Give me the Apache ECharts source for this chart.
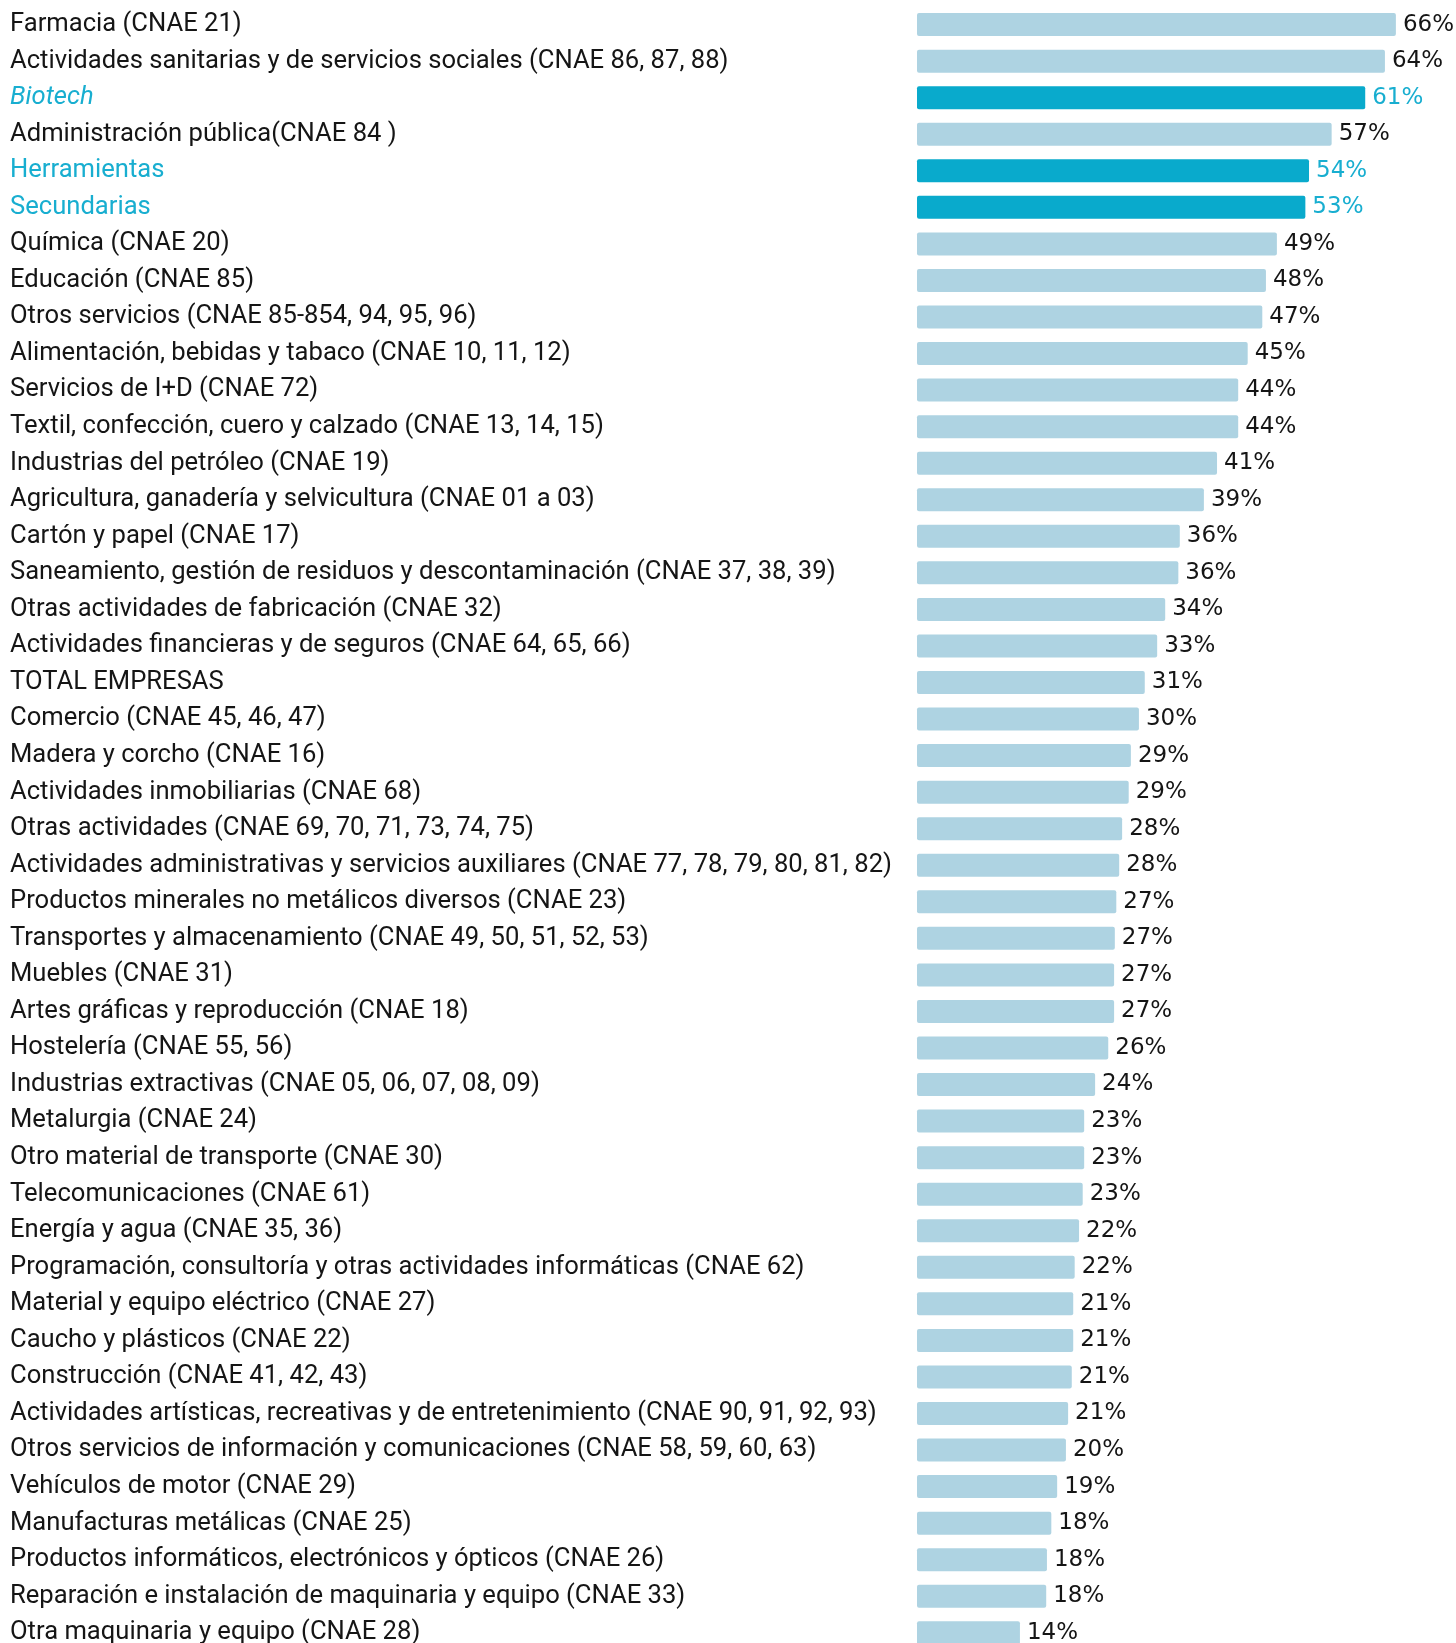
<!DOCTYPE html>
<html>
<head>
<meta charset="utf-8">
<script src="https://cdn.jsdelivr.net/npm/echarts@6/dist/echarts.min.js"></script>
<style>
  html, body { margin: 0; padding: 0; background: #ffffff; }
  #chart { width: 1456px; height: 1643px; }
</style>
</head>
<body>
<div id="chart"></div>
<script>
const categories = [
  "Farmacia (CNAE 21)",
  "Actividades sanitarias y de servicios sociales (CNAE 86, 87, 88)",
  "Biotech",
  "Administración pública(CNAE 84 )",
  "Herramientas",
  "Secundarias",
  "Química (CNAE 20)",
  "Educación (CNAE 85)",
  "Otros servicios (CNAE 85-854, 94, 95, 96)",
  "Alimentación, bebidas y tabaco (CNAE 10, 11, 12)",
  "Servicios de I+D (CNAE 72)",
  "Textil, confección, cuero y calzado (CNAE 13, 14, 15)",
  "Industrias del petróleo (CNAE 19)",
  "Agricultura, ganadería y selvicultura (CNAE 01 a 03)",
  "Cartón y papel (CNAE 17)",
  "Saneamiento, gestión de residuos y descontaminación (CNAE 37, 38, 39)",
  "Otras actividades de fabricación (CNAE 32)",
  "Actividades financieras y de seguros (CNAE 64, 65, 66)",
  "TOTAL EMPRESAS",
  "Comercio (CNAE 45, 46, 47)",
  "Madera y corcho (CNAE 16)",
  "Actividades inmobiliarias (CNAE 68)",
  "Otras actividades (CNAE 69, 70, 71, 73, 74, 75)",
  "Actividades administrativas y servicios auxiliares (CNAE 77, 78, 79, 80, 81, 82)",
  "Productos minerales no metálicos diversos (CNAE 23)",
  "Transportes y almacenamiento (CNAE 49, 50, 51, 52, 53)",
  "Muebles (CNAE 31)",
  "Artes gráficas y reproducción (CNAE 18)",
  "Hostelería (CNAE 55, 56)",
  "Industrias extractivas (CNAE 05, 06, 07, 08, 09)",
  "Metalurgia (CNAE 24)",
  "Otro material de transporte (CNAE 30)",
  "Telecomunicaciones (CNAE 61)",
  "Energía y agua (CNAE 35, 36)",
  "Programación, consultoría y otras actividades informáticas (CNAE 62)",
  "Material y equipo eléctrico (CNAE 27)",
  "Caucho y plásticos (CNAE 22)",
  "Construcción (CNAE 41, 42, 43)",
  "Actividades artísticas, recreativas y de entretenimiento (CNAE 90, 91, 92, 93)",
  "Otros servicios de información y comunicaciones (CNAE 58, 59, 60, 63)",
  "Vehículos de motor (CNAE 29)",
  "Manufacturas metálicas (CNAE 25)",
  "Productos informáticos, electrónicos y ópticos (CNAE 26)",
  "Reparación e instalación de maquinaria y equipo (CNAE 33)",
  "Otra maquinaria y equipo (CNAE 28)"
];

const values = [
  65.6, 64.1, 61.4, 56.8, 53.7, 53.2, 49.3, 47.8, 47.3, 45.3,
  44.0, 44.0, 41.1, 39.3, 36.0, 35.8, 34.0, 32.9, 31.2, 30.4,
  29.3, 29.0, 28.1, 27.7, 27.3, 27.1, 27.0, 27.0, 26.2, 24.4,
  22.9, 22.9, 22.7, 22.2, 21.6, 21.4, 21.4, 21.2, 20.7, 20.4,
  19.2, 18.4, 17.8, 17.7, 14.1
];

const highlighted = ["Biotech", "Herramientas", "Secundarias"];
const italicCats = ["Biotech"];

const BASE_BAR = "#AED3E2";
const HI_BAR = "#09AACC";
const HI_TEXT = "#18AED0";
const TEXT = "#151515";
const CAT_FONT = "Roboto, 'Open Sans', sans-serif";
const VAL_FONT = "'DejaVu Sans', sans-serif";

const yData = categories.map(function (c) {
  const hi = highlighted.indexOf(c) >= 0;
  return {
    value: c,
    textStyle: {
      color: hi ? HI_TEXT : TEXT,
      align: "left",
      fontStyle: italicCats.indexOf(c) >= 0 ? "italic" : "normal"
    }
  };
});

const seriesData = values.map(function (v, i) {
  const hi = highlighted.indexOf(categories[i]) >= 0;
  return {
    value: v,
    itemStyle: { color: hi ? HI_BAR : BASE_BAR },
    label: { color: hi ? HI_TEXT : TEXT }
  };
});

const chart = echarts.init(document.getElementById("chart"), null, { renderer: "canvas" });
chart.setOption({
  animation: false,
  backgroundColor: "#ffffff",
  grid: { left: 917, top: 6.3, width: 511, height: 1644.75, containLabel: false, outerBoundsMode: "none" },
  xAxis: {
    type: "value", min: 0, max: 70, show: false
  },
  yAxis: {
    type: "category",
    inverse: true,
    data: yData,
    axisLine: { show: false },
    axisTick: { show: false },
    splitLine: { show: false },
    axisLabel: {
      interval: 0,
      align: "left",
      margin: 907,
      padding: [3, 0, 0, 0],
      fontSize: 25.6,
      fontFamily: CAT_FONT,
      color: TEXT
    }
  },
  series: [{
    type: "bar",
    data: seriesData,
    barWidth: 23,
    itemStyle: { borderRadius: 2 },
    label: {
      show: true,
      position: "right",
      distance: 7,
      padding: [3, 0, 0, 0],
      fontSize: 23,
      fontFamily: VAL_FONT,
      formatter: function (p) { return Math.round(p.value) + "%"; }
    }
  }]
});
</script>
</body>
</html>
